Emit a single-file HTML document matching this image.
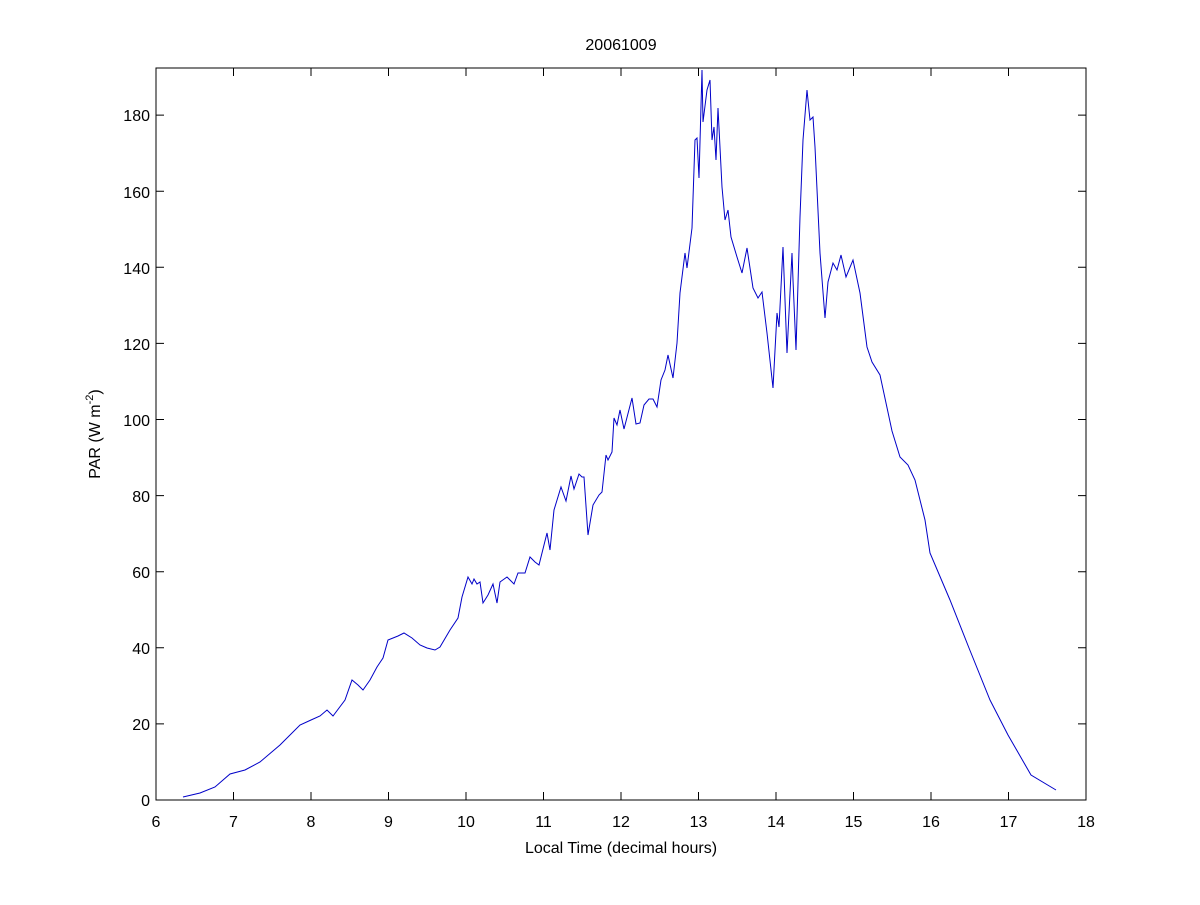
<!DOCTYPE html>
<html><head><meta charset="utf-8"><style>
body{margin:0;background:#fff;}
text{font-family:"Liberation Sans",sans-serif;font-size:16px;fill:#000;}
</style></head><body>
<svg width="1200" height="900" xmlns="http://www.w3.org/2000/svg">
<rect width="1200" height="900" fill="#fff"/>
<rect x="156" y="68" width="930" height="732" fill="none" stroke="#000" stroke-width="1"/>
<g stroke="#000" stroke-width="1">
<path d="M156 800v-8M233.5 800v-8M311 800v-8M388.5 800v-8M466 800v-8M543.5 800v-8M621 800v-8M698.5 800v-8M776 800v-8M853.5 800v-8M931 800v-8M1008.5 800v-8M1086 800v-8"/>
<path d="M156 68v8M233.5 68v8M311 68v8M388.5 68v8M466 68v8M543.5 68v8M621 68v8M698.5 68v8M776 68v8M853.5 68v8M931 68v8M1008.5 68v8M1086 68v8"/>
<path d="M156 800h8M156 723.9h8M156 647.8h8M156 571.7h8M156 495.6h8M156 419.5h8M156 343.4h8M156 267.3h8M156 191.2h8M156 115.1h8"/>
<path d="M1086 800h-8M1086 723.9h-8M1086 647.8h-8M1086 571.7h-8M1086 495.6h-8M1086 419.5h-8M1086 343.4h-8M1086 267.3h-8M1086 191.2h-8M1086 115.1h-8"/>
</g>
<g text-anchor="middle">
<text x="156" y="827">6</text><text x="233.5" y="827">7</text><text x="311" y="827">8</text><text x="388.5" y="827">9</text><text x="466" y="827">10</text><text x="543.5" y="827">11</text><text x="621" y="827">12</text><text x="698.5" y="827">13</text><text x="776" y="827">14</text><text x="853.5" y="827">15</text><text x="931" y="827">16</text><text x="1008.5" y="827">17</text><text x="1086" y="827">18</text>
<text x="621" y="853">Local Time (decimal hours)</text>
<text x="621" y="50">20061009</text>
</g>
<g text-anchor="end">
<text x="150" y="806">0</text><text x="150" y="730">20</text><text x="150" y="654">40</text><text x="150" y="578">60</text><text x="150" y="502">80</text><text x="150" y="426">100</text><text x="150" y="350">120</text><text x="150" y="274">140</text><text x="150" y="198">160</text><text x="150" y="121">180</text>
</g>
<text transform="translate(100,434) rotate(-90)" text-anchor="middle">PAR (W m<tspan font-size="11" dy="-7">-2</tspan><tspan dy="7">)</tspan></text>
<polyline fill="none" stroke="#0000c8" stroke-width="1" points="183,797 200,793 215,787 230,774 245,770 260,762 280,745 300,725 311,720 320,716 327,710 333,716 345,700 352,680 358,685 363,690 370,680 377,667 383,658 388,640 398,636 404,633 412,638 420,645 427,648 435,650 440,647 450,630 458,618 462,597 468,577 472,584 474,579 477,584 480,582 483,603 488,595 493,584 497,603 500,582 507,577 514,584 518,573 525,573 530,557 535,562 539,565 547,533 550,550 554,510 561,487 566,501 571,476 574,489 579,474 582,477 584,477 588,535 593,505 599,495 602,492 606,455 608,460 612,452 614,418 617,425 620,410 624,429 632,398 636,424 640,423 644,405 649,399 653,399 657,407 661,380 665,370 668,355 673,378 677,343 680,293 685,253 687,268 692,228 695,140 697,138 699,178 702,70 703,122 707,90 710,80 712,140 714,127 716,160 718,108 722,187 725,220 728,210 731,237 737,257 742,273 747,248 753,288 758,298 762,292 767,333 773,388 777,313 779,327 783,247 787,353 792,253 793,280 796,350 800,217 803,140 807,90 810,120 813,117 815,147 820,253 825,318 828,282 833,263 837,270 841,255 846,277 853,260 860,293 867,347 872,362 880,375 892,431 900,457 908,465 915,480 925,520 930,553 950,600 969,648 990,700 1008,735 1031,775 1056,790"/>
</svg>
</body></html>
